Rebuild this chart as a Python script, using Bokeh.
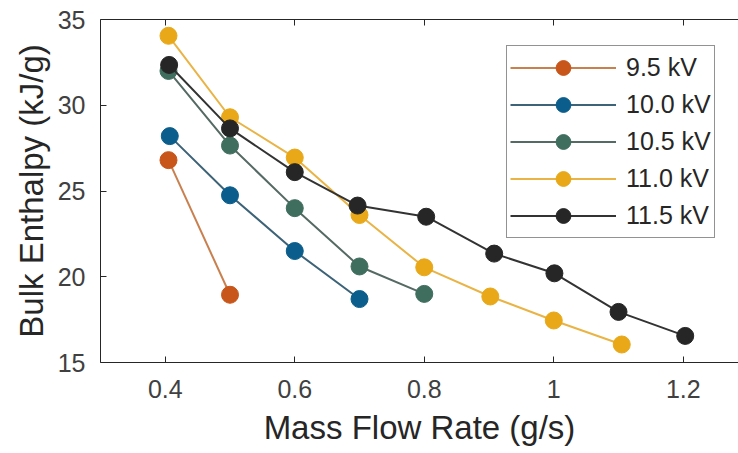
from bokeh.plotting import figure
from bokeh.models import Range1d, LinearAxis, FixedTicker, Legend, LegendItem
from bokeh.embed import file_html
from bokeh.resources import INLINE

# ---- data ----
labels = ["9.5 kV", "10.0 kV", "10.5 kV", "11.0 kV", "11.5 kV"]
x_95 = [0.405, 0.5]
y_95 = [26.8, 18.95]
x_100 = [0.407, 0.5, 0.6, 0.7]
y_100 = [28.2, 24.75, 21.5, 18.7]
x_105 = [0.405, 0.5, 0.6, 0.7, 0.8]
y_105 = [32.0, 27.65, 24.0, 20.6, 19.0]
x_110 = [0.405, 0.5, 0.6, 0.7, 0.8, 0.902, 1.0, 1.105]
y_110 = [34.05, 29.3, 26.95, 23.6, 20.55, 18.85, 17.45, 16.05]
x_115 = [0.406, 0.5, 0.6, 0.697, 0.803, 0.908, 1.001, 1.1, 1.203]
y_115 = [32.35, 28.65, 26.1, 24.15, 23.5, 21.35, 20.2, 17.95, 16.55]
x_ticks = [0.4, 0.6, 0.8, 1.0, 1.2]
y_ticks = [15, 20, 25, 30, 35]

series = [
    (x_95, y_95, "#C8561A", "#C9804F"),
    (x_100, y_100, "#0B5E8C", "#3D6378"),
    (x_105, y_105, "#3F6E5E", "#556A64"),
    (x_110, y_110, "#E9A818", "#E9B445"),
    (x_115, y_115, "#262626", "#333333"),
]

TXT = "#262626"
FONT = "Liberation Sans"

p = figure(width=738, height=453, output_backend="svg", toolbar_location=None,
           x_range=Range1d(0.3, 1.2853), y_range=Range1d(15, 35),
           x_axis_location=None, y_axis_location=None,
           min_border_left=100, min_border_right=0, min_border_top=19, min_border_bottom=91)
p.outline_line_color = None
p.xgrid.visible = False
p.ygrid.visible = False
p.background_fill_color = "white"

def style_axis(ax, show_labels=True):
    ax.major_tick_in = 6
    ax.major_tick_out = 0
    ax.minor_tick_line_color = None
    ax.axis_line_color = TXT
    ax.major_tick_line_color = TXT
    ax.major_label_text_font = FONT
    ax.major_label_text_color = "#404040"
    ax.axis_label_text_font = FONT
    ax.axis_label_text_font_style = "normal"
    ax.axis_label_text_color = TXT
    if show_labels:
        ax.major_label_text_font_size = "25px"
        ax.axis_label_text_font_size = "33px"
    else:
        ax.major_label_text_font_size = "0px"
        ax.major_label_standoff = 0

xax = LinearAxis(ticker=FixedTicker(ticks=x_ticks), axis_label="Mass Flow Rate (g/s)")
style_axis(xax)
xax.major_label_standoff = 17
xax.axis_label_standoff = 8
p.add_layout(xax, "below")

yax = LinearAxis(ticker=FixedTicker(ticks=y_ticks), axis_label="Bulk Enthalpy (kJ/g)")
style_axis(yax)
yax.major_label_standoff = 15
yax.axis_label_standoff = 5
p.add_layout(yax, "left")

top = LinearAxis(ticker=FixedTicker(ticks=x_ticks))
style_axis(top, show_labels=False)
top.major_label_overrides = {t: "" for t in x_ticks}
p.add_layout(top, "above")

items = []
for (xs, ys, mc, lc), lab in zip(series, labels):
    r1 = p.line(xs, ys, line_color=lc, line_width=2)
    r2 = p.scatter(xs, ys, marker="circle", size=17, fill_color=mc, line_color=mc)
    items.append(LegendItem(label=lab, renderers=[r1, r2]))

legend = Legend(items=items, location=(406, 124), orientation="vertical",
                glyph_width=106, glyph_height=37, label_height=37, spacing=0,
                padding=3, margin=0, label_standoff=10,
                label_text_font=FONT, label_text_font_size="25px", label_text_color=TXT,
                border_line_color=TXT, border_line_width=1.5,
                background_fill_color="white", background_fill_alpha=1.0)
p.add_layout(legend, "center")

open("out.html", "w").write(file_html(p, INLINE))
